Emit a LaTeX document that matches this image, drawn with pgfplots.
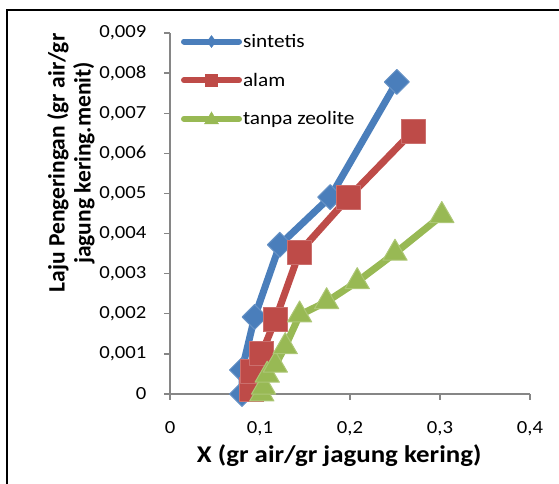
\documentclass[border=0pt]{standalone}
\usepackage{fontspec}
\setmainfont{Carlito}[FakeStretch=1.12]
\newfontfamily\ylabfont{Carlito}
\usepackage{pgfplots}
\pgfplotsset{compat=1.18}
\definecolor{cblue}{HTML}{4A7EBB}
\definecolor{cred}{HTML}{BE4B48}
\definecolor{cgreen}{HTML}{98B954}
\definecolor{axgray}{HTML}{868686}
\begin{document}
\begin{tikzpicture}
\path[use as bounding box] (0,0) rectangle (559pt,484pt);
\draw[black, line width=2.5pt] (7pt,-10pt) -- (7pt,474pt) -- (570pt,474pt);
\begin{axis}[
  at={(170pt,90pt)}, anchor=south west,
  scale only axis, width=360pt, height=361pt,
  xmin=0, xmax=0.4, ymin=0, ymax=0.009,
  axis x line=bottom, axis y line=left,
  axis line style={-, axgray, line width=1.3pt},
  tick style={axgray, line width=1.3pt},
  tick align=outside, major tick length=6pt,
  xtick={0,0.1,0.2,0.3,0.4},
  xticklabels={0,{0,1},{0,2},{0,3},{0,4}},
  ytick={0,0.001,0.002,0.003,0.004,0.005,0.006,0.007,0.008,0.009},
  yticklabels={0,{0,001},{0,002},{0,003},{0,004},{0,005},{0,006},{0,007},{0,008},{0,009}},
  scaled x ticks=false, scaled y ticks=false,
  ticklabel style={font=\fontsize{18.5}{20}\selectfont, text=black},
  yticklabel style={xshift=-14pt},
  xticklabel style={yshift=-18pt},
  xlabel={\bfseries X (gr air/gr jagung kering)},
  xlabel style={font=\fontsize{24}{26}\selectfont, at={(axis description cs:0.47,0)}, anchor=center, yshift=-62pt},
  ylabel={Laju Pengeringan (gr air/gr\\jagung kering.menit)},
  ylabel style={font=\ylabfont\bfseries\fontsize{23.5}{26}\selectfont, align=center, at={(axis description cs:-0.275,0.64)}, anchor=center, rotate=0},
  legend cell align=left,
  legend style={at={(axis description cs:0.03,1.0)}, anchor=north west, draw=none, fill=none,
     font=\fontsize{19}{21}\selectfont, row sep=22pt, inner sep=0pt,
     nodes={inner sep=1pt}},
  clip=false,
]
\addplot[forget plot, cblue, line width=7pt, line join=round, line cap=round,
  mark=square*, mark size=8.8pt, mark options={rotate=45, fill=cblue, draw=cblue!85!white, line width=1pt}]
  coordinates {(0.080,0) (0.080,0.0006) (0.094,0.00192) (0.122,0.00372) (0.178,0.00491) (0.252,0.00778)};
\addplot[forget plot, cred, line width=7pt, line join=round, line cap=round,
  mark=square*, mark size=12pt, mark options={fill=cred, draw=cred!80!white, line width=1pt}]
  coordinates {(0.091,0.0001) (0.092,0.00055) (0.102,0.00102) (0.117,0.00185) (0.144,0.00354) (0.198,0.00489) (0.270,0.00655)};
\addplot[forget plot, cgreen, line width=7pt, line join=round, line cap=round,
  mark=triangle*, mark size=14pt, mark options={fill=cgreen, draw=cgreen!80!white, line width=1pt}]
  coordinates {(0.102,0) (0.104,0.00017) (0.108,0.00047) (0.117,0.00072) (0.128,0.00118) (0.144,0.00197) (0.174,0.0023) (0.208,0.0028) (0.250,0.00351) (0.302,0.00445)};
\addlegendimage{legend image code/.code={\draw[cblue, line width=6pt, line cap=round] (0pt,0pt) -- (55pt,0pt); \fill[cblue] (27.5pt,-6pt) -- (32pt,0pt) -- (27.5pt,6pt) -- (23pt,0pt) -- cycle;}}
\addlegendentry{sintetis}
\addlegendimage{legend image code/.code={\draw[cred, line width=6pt, line cap=round] (0pt,0pt) -- (55pt,0pt); \fill[cred] (21.5pt,-6pt) rectangle (33.5pt,6pt);}}
\addlegendentry{alam}
\addlegendimage{legend image code/.code={\draw[cgreen, line width=6pt, line cap=round] (0pt,0pt) -- (55pt,0pt); \fill[cgreen] (20.5pt,-5pt) -- (34.5pt,-5pt) -- (27.5pt,7pt) -- cycle;}}
\addlegendentry{tanpa zeolite}
\end{axis}
\end{tikzpicture}
\end{document}
